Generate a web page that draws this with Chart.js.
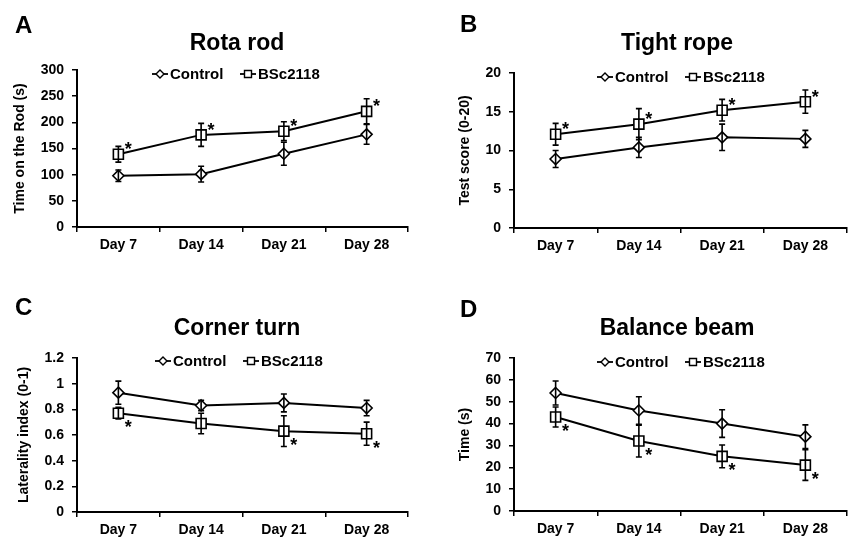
<!DOCTYPE html>
<html>
<head>
<meta charset="utf-8">
<script src="https://cdn.jsdelivr.net/npm/chart.js@4.4.0/dist/chart.umd.min.js"></script>
<style>
  body { margin: 0; background: #fff; width: 849px; height: 539px; position: relative; overflow: hidden; }
  canvas { position: absolute; }
</style>
</head>
<body>
<canvas id="chartA" width="425" height="270" style="left:0;top:0"></canvas>
<canvas id="chartB" width="424" height="270" style="left:425px;top:0"></canvas>
<canvas id="chartC" width="425" height="269" style="left:0;top:270px"></canvas>
<canvas id="chartD" width="424" height="269" style="left:425px;top:270px"></canvas>
<script>
// data (mean, error)
const days = ['Day 7', 'Day 14', 'Day 21', 'Day 28'];

const rotaControl = [98, 101, 140, 177];
const rotaControlErr = [11, 15, 22, 19];
const rotaBsc = [139, 176, 183, 221];
const rotaBscErr = [15, 22, 18, 24];
const rotaTicks = [0, 50, 100, 150, 200, 250, 300];
const rotaSig = [true, true, true, true];

const ropeControl = [8.9, 10.4, 11.7, 11.5];
const ropeControlErr = [1.1, 1.3, 1.7, 1.1];
const ropeBsc = [12.1, 13.4, 15.2, 16.3];
const ropeBscErr = [1.4, 2.0, 1.4, 1.5];
const ropeTicks = [0, 5, 10, 15, 20];
const ropeSig = [true, true, true, true];

const cornerControl = [0.93, 0.83, 0.85, 0.81];
const cornerControlErr = [0.09, 0.04, 0.07, 0.06];
const cornerBsc = [0.77, 0.69, 0.63, 0.61];
const cornerBscErr = [0.045, 0.08, 0.12, 0.09];
const cornerTicks = [0, 0.2, 0.4, 0.6, 0.8, 1, 1.2];
const cornerSig = [true, false, true, true];

const beamControl = [54, 46, 40, 34];
const beamControlErr = [5.5, 6.3, 6.3, 5.4];
const beamBsc = [43, 32, 25, 21];
const beamBscErr = [4.6, 7.3, 5.2, 7.0];
const beamTicks = [0, 10, 20, 30, 40, 50, 60, 70];
const beamSig = [true, true, true, true];

const seriesNames = ['Control', 'BSc2118'];

Chart.defaults.font.family = "'Liberation Sans', Arial, sans-serif";
Chart.defaults.color = '#000';

function drawMarker(ctx, style, x, y, r) {
  ctx.beginPath();
  if (style === 'rect') {
    ctx.rect(x - r, y - r, 2 * r, 2 * r);
  } else {
    ctx.moveTo(x, y - r);
    ctx.lineTo(x + r, y);
    ctx.lineTo(x, y + r);
    ctx.lineTo(x - r, y);
    ctx.closePath();
  }
  ctx.fillStyle = '#fff';
  ctx.fill();
  ctx.stroke();
}

// letter, title, legend, error bars and asterisks
const panelPlugin = {
  id: 'panel',
  afterDatasetsDraw(chart, args, opts) {
    const ctx = chart.ctx;
    const y = chart.scales.y;
    ctx.save();
    ctx.strokeStyle = '#000';
    ctx.lineWidth = 1.6;
    opts.errors.forEach((errs, di) => {
      const meta = chart.getDatasetMeta(di);
      const vals = chart.data.datasets[di].data;
      meta.data.forEach((pt, j) => {
        const top = y.getPixelForValue(vals[j] + errs[j]);
        const bot = y.getPixelForValue(vals[j] - errs[j]);
        ctx.beginPath();
        ctx.moveTo(pt.x, top); ctx.lineTo(pt.x, bot);
        ctx.moveTo(pt.x - 3, top); ctx.lineTo(pt.x + 3, top);
        ctx.moveTo(pt.x - 3, bot); ctx.lineTo(pt.x + 3, bot);
        ctx.stroke();
      });
    });
    // redraw markers on top, like the source
    chart.data.datasets.forEach((ds, di) => {
      chart.getDatasetMeta(di).data.forEach(pt => {
        ctx.lineWidth = 1.6;
        drawMarker(ctx, di === 0 ? 'diamond' : 'rect', pt.x, pt.y, di === 0 ? 5.5 : 5);
        ctx.beginPath();
        ctx.moveTo(pt.x, pt.y - 5); ctx.lineTo(pt.x, pt.y + 5);
        ctx.stroke();
      });
    });
    // significance marks on BSc2118
    ctx.font = 'bold 18px "Liberation Sans", Arial, sans-serif';
    ctx.fillStyle = '#000';
    ctx.textAlign = 'center';
    ctx.textBaseline = 'alphabetic';
    const bsc = chart.getDatasetMeta(1).data;
    opts.sig.forEach((s, j) => {
      if (!s) return;
      const dy = opts.sigBelow ? 9 : -10;
      ctx.fillText('*', bsc[j].x + 10, bsc[j].y + dy + 11);
    });

    // panel letter and title
    ctx.textAlign = 'left';
    ctx.font = 'bold 24px "Liberation Sans", Arial, sans-serif';
    ctx.fillText(opts.letter, opts.letterX, opts.letterY);
    ctx.textAlign = 'center';
    ctx.font = 'bold 23px "Liberation Sans", Arial, sans-serif';
    ctx.fillText(opts.title, opts.titleX, opts.titleY);

    // legend
    ctx.textAlign = 'left';
    ctx.textBaseline = 'middle';
    ctx.font = 'bold 15px "Liberation Sans", Arial, sans-serif';
    seriesNames.forEach((name, i) => {
      const x0 = opts.legendX + i * 88;
      const ly = opts.legendY;
      ctx.lineWidth = 1.8;
      ctx.beginPath();
      ctx.moveTo(x0, ly); ctx.lineTo(x0 + 16, ly);
      ctx.stroke();
      ctx.lineWidth = 1.4;
      drawMarker(ctx, i === 0 ? 'diamond' : 'rect', x0 + 8, ly, i === 0 ? 4 : 3.5);
      ctx.fillStyle = '#000';
      ctx.fillText(name, x0 + 18, ly + 1);
    });
    ctx.restore();
  }
};

function makeChart(id, cfg) {
  const tickFont = { size: 14, weight: 'bold' };
  return new Chart(document.getElementById(id), {
    type: 'line',
    data: {
      labels: days,
      datasets: [
        { label: seriesNames[0], data: cfg.control, borderColor: '#000', borderWidth: 2, pointRadius: 0, tension: 0 },
        { label: seriesNames[1], data: cfg.bsc, borderColor: '#000', borderWidth: 2, pointRadius: 0, tension: 0 }
      ]
    },
    options: {
      responsive: false,
      animation: false,
      events: [],
      layout: { padding: { top: cfg.area[1], right: cfg.padRight, left: 0, bottom: 0 } },
      scales: {
        x: {
          offset: true,
          grid: { offset: true, drawOnChartArea: false, drawTicks: true, tickLength: 5, color: '#000', lineWidth: 1.5 },
          border: { color: '#000', width: 2 },
          ticks: { font: tickFont, color: '#000', padding: 5, maxRotation: 0 },
          afterFit: s => { s.height = cfg.xHeight; }
        },
        y: {
          min: cfg.ticks[0],
          max: cfg.ticks[cfg.ticks.length - 1],
          afterBuildTicks: s => { s.ticks = cfg.ticks.map(v => ({ value: v })); },
          grid: { drawOnChartArea: false, drawTicks: true, tickLength: 5, color: '#000', lineWidth: 1.5 },
          border: { color: '#000', width: 2 },
          ticks: { font: tickFont, color: '#000', padding: 8, callback: v => String(v) },
          title: { display: true, text: cfg.yTitle, font: { size: 14, weight: 'bold' }, color: '#000', padding: { top: cfg.yTitlePad, bottom: 0 } },
          afterFit: s => { s.width = cfg.area[0]; }
        }
      },
      plugins: {
        legend: { display: false },
        tooltip: { enabled: false },
        panel: {
          errors: [cfg.controlErr, cfg.bscErr],
          sig: cfg.sig, sigBelow: cfg.sigBelow,
          letter: cfg.letter, letterX: cfg.letterX, letterY: cfg.letterY,
          title: cfg.title, titleX: cfg.titleX, titleY: cfg.titleY,
          legendX: cfg.legendX, legendY: cfg.legendY
        }
      }
    },
    plugins: [panelPlugin]
  });
}

makeChart('chartA', {
  control: rotaControl, controlErr: rotaControlErr, bsc: rotaBsc, bscErr: rotaBscErr,
  ticks: rotaTicks, sig: rotaSig, sigBelow: false, yTitle: 'Time on the Rod (s)',
  area: [77, 70], padRight: 17, xHeight: 43, yTitlePad: 12,
  letter: 'A', letterX: 15, letterY: 33, title: 'Rota rod', titleX: 237, titleY: 50,
  legendX: 152, legendY: 74
});
makeChart('chartB', {
  control: ropeControl, controlErr: ropeControlErr, bsc: ropeBsc, bscErr: ropeBscErr,
  ticks: ropeTicks, sig: ropeSig, sigBelow: false, yTitle: 'Test score (0-20)',
  area: [89, 73], padRight: 2, xHeight: 42, yTitlePad: 32,
  letter: 'B', letterX: 35, letterY: 32, title: 'Tight rope', titleX: 252, titleY: 50,
  legendX: 172, legendY: 77
});
makeChart('chartC', {
  control: cornerControl, controlErr: cornerControlErr, bsc: cornerBsc, bscErr: cornerBscErr,
  ticks: cornerTicks, sig: cornerSig, sigBelow: true, yTitle: 'Laterality index (0-1)',
  area: [77, 88], padRight: 17, xHeight: 27, yTitlePad: 16,
  letter: 'C', letterX: 15, letterY: 45, title: 'Corner turn', titleX: 237, titleY: 65,
  legendX: 155, legendY: 91
});
makeChart('chartD', {
  control: beamControl, controlErr: beamControlErr, bsc: beamBsc, bscErr: beamBscErr,
  ticks: beamTicks, sig: beamSig, sigBelow: true, yTitle: 'Time (s)',
  area: [89, 88], padRight: 2, xHeight: 28, yTitlePad: 32,
  letter: 'D', letterX: 35, letterY: 47, title: 'Balance beam', titleX: 252, titleY: 65,
  legendX: 172, legendY: 92
});
</script>
</body>
</html>
